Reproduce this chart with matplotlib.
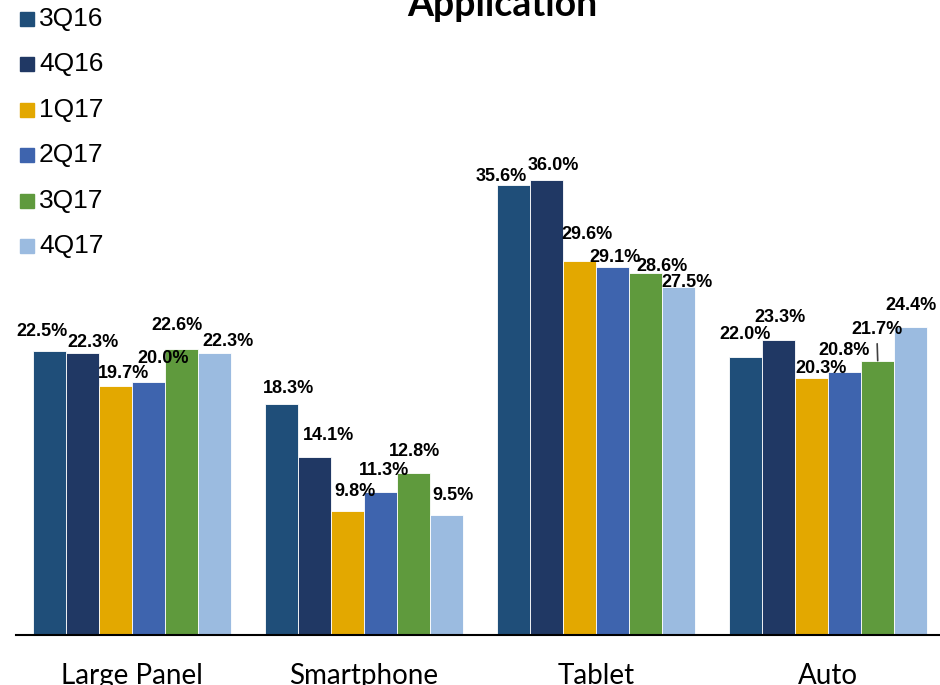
import matplotlib
matplotlib.use("Agg")
import matplotlib.pyplot as plt
from matplotlib.patches import Rectangle
import numpy as np

categories = ["Large Panel", "Smartphone", "Tablet", "Auto"]
series = ["3Q16", "4Q16", "1Q17", "2Q17", "3Q17", "4Q17"]
large_panel = [22.5, 22.3, 19.7, 20.0, 22.6, 22.3]
smartphone = [18.3, 14.1, 9.8, 11.3, 12.8, 9.5]
tablet = [35.6, 36.0, 29.6, 29.1, 28.6, 27.5]
auto = [22.0, 23.3, 20.3, 20.8, 21.7, 24.4]
values = np.array([large_panel, smartphone, tablet, auto])  # [category, series]

colors = ["#1F4E79", "#203864", "#E3A800", "#3E64AE", "#5F9A3D", "#9BBBE0"]

# label offsets in pixels (dx, dy above bar top), per category then series
label_offsets = [
    [(-7, 19), (11, 11), (8, 12), (15, 24), (-5, 24), (13, 12)],
    [(7, 15), (14, 21), (8, 20), (3, 22), (1, 22), (6, 19)],
    [(-12, 9), (7, 14), (8, 26), (2, 10), (16, 7), (8, 5)],
    [(0, 22), (2, 23), (10, 10), (-1, 22), (-1, 31), (0, 21)],
]

W, H = 940, 685
fig = plt.figure(figsize=(W / 100, H / 100), dpi=100)
ax_h = 40 * 12.64
ax = fig.add_axes([16 / W, 50 / H, 928 / W, ax_h / H])

bw = 1 / 7
x = np.arange(len(categories))
for j, s in enumerate(series):
    bars = ax.bar(x + (j - 2.5) * bw, values[:, j], width=bw, color=colors[j],
                  edgecolor="white", linewidth=0.6, label=s, zorder=2)
    for i, b in enumerate(bars):
        dx, dy = label_offsets[i][j]
        v = values[i, j]
        kw = {}
        if categories[i] == "Auto" and s == "3Q17":
            kw = dict(arrowprops=dict(arrowstyle="-", color="#404040", lw=1.2,
                                      shrinkA=2, shrinkB=0))
        ax.annotate(f"{v:.1f}%", xy=(b.get_x() + b.get_width() / 2, v),
                    xytext=(dx, dy), textcoords="offset pixels",
                    ha="center", va="center", fontsize=13, fontweight="bold",
                    family="Liberation Sans", color="black", zorder=3, **kw)

ax.set_xlim(-0.5, 3.5)
ax.set_ylim(0, 40)
for sp in ["top", "right", "left"]:
    ax.spines[sp].set_visible(False)
ax.spines["bottom"].set_linewidth(1.5)
ax.spines["bottom"].set_color("black")
ax.set_yticks([])
ax.set_xticks(x)
ax.set_xticklabels(categories, fontsize=20, family="Lato")
ax.tick_params(axis="x", length=0, pad=20)

# legend (manual, vertical list at top-left)
for j, s in enumerate(series):
    yc = 19 + 45.4 * j
    fig.patches.append(Rectangle((20 / W, 1 - (yc + 7) / H), 14 / W, 14 / H,
                                 transform=fig.transFigure, color=colors[j]))
    fig.text(39 / W, 1 - yc / H, s, fontsize=19, family="Liberation Sans",
             va="center", ha="left")

fig.text(502 / W, 1 - 16 / H, "Application", fontsize=27, fontweight="bold",
         family="Lato", ha="center", va="baseline")

fig.savefig("out.png", dpi=100)
